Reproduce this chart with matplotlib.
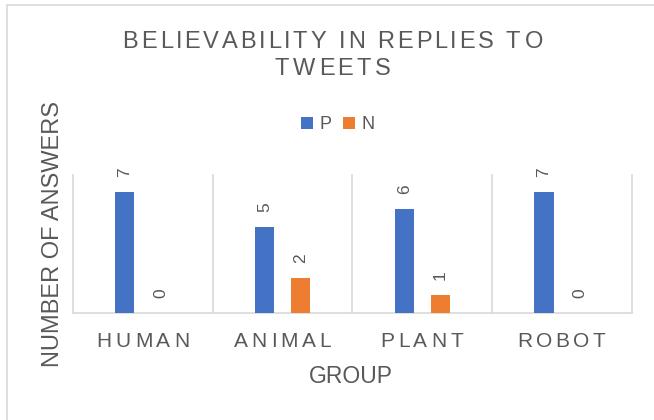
import matplotlib
matplotlib.use("Agg")
import matplotlib.pyplot as plt
import numpy as np
from matplotlib.patches import Rectangle
from matplotlib.font_manager import FontProperties, findfont
from matplotlib.ft2font import FT2Font

# Antworten pro Gruppe: P = glaubwürdig, N = nicht glaubwürdig
groups = ["HUMAN", "ANIMAL", "PLANT", "ROBOT"]
series_names = ["P", "N"]
p_values = [7, 5, 6, 7]
n_values = [0, 2, 1, 0]

title_lines = ["BELIEVABILITY IN REPLIES TO", "TWEETS"]
x_title = "GROUP"
y_title = "NUMBER OF ANSWERS"

W, H, DPI = 654, 420, 100
FAMILY = "Liberation Sans"
GREY = "#595959"
GRID = "#D9D9D9"
BLUE = "#4472C4"
ORANGE = "#ED7D31"


def advances(s, size):
    # Vorschubbreiten der einzelnen Zeichen in Pixeln
    font = FT2Font(findfont(FontProperties(family=FAMILY)), hinting_factor=1)
    font.set_size(size, DPI)
    return [font.load_char(ord(c)).horiAdvance / 64 for c in s]


def spaced_text(fig, x_px, y_px, s, size, spacing):
    # Text mit Zeichenabstand (wie in Excel), zentriert auf x_px, Grundlinie bei y_px
    adv = advances(s, size)
    total = sum(adv) + spacing * (len(s) - 1)
    cx = x_px - total / 2
    for ch, a in zip(s, adv):
        if ch != " ":
            fig.text(cx / W, 1 - y_px / H, ch, fontsize=size, family=FAMILY,
                     color=GREY, ha="left", va="baseline")
        cx += a + spacing


fig = plt.figure(figsize=(W / DPI, H / DPI), dpi=DPI)

# Rahmen des Diagrammbereichs
fig.patches.append(Rectangle((6.5 / W, -0.1), 1.2, 1 - 5.5 / H + 0.1,
                             transform=fig.transFigure, fill=False,
                             edgecolor=GRID, linewidth=1.2))

left, right, top, bottom = 73, 632, 175, 312.5
ax = fig.add_axes([left / W, 1 - bottom / H, (right - left) / W, (bottom - top) / H])

x = np.arange(len(groups))
off, bw = 0.13, 0.137
bars_p = ax.bar(x - off, p_values, bw, color=BLUE, label=series_names[0], zorder=3)
bars_n = ax.bar(x + off, n_values, bw, color=ORANGE, label=series_names[1], zorder=3)

ax.set_xlim(-0.5, len(groups) - 0.5)
ax.set_ylim(0, 8)
ax.set_xticks(x)
ax.set_xticklabels([])
ax.set_yticks([])
ax.tick_params(length=0)
for side in ["top", "left", "right"]:
    ax.spines[side].set_visible(False)
ax.spines["bottom"].set_color(GRID)
ax.spines["bottom"].set_linewidth(1.2)
# senkrechte Trennlinien zwischen den Gruppen
for b in np.arange(-0.5, len(groups), 1.0):
    ax.axvline(b, color=GRID, linewidth=1.2, zorder=1, clip_on=False)

# Datenbeschriftungen, um 90° gedreht
for bars in (bars_p, bars_n):
    for rect in bars:
        v = rect.get_height()
        ax.annotate(f"{v:.0f}", (rect.get_x() + rect.get_width() / 2, v),
                    xytext=(0, 15), textcoords="offset pixels",
                    rotation=90, ha="center", va="bottom",
                    fontsize=12.5, family=FAMILY, color=GREY)

# Legende
ax.legend(ncol=2, frameon=False, loc="center",
          bbox_to_anchor=(338 / W, 1 - 124.5 / H), bbox_transform=fig.transFigure,
          prop=FontProperties(family=FAMILY, size=13), labelcolor=GREY,
          handlelength=0.67, handleheight=0.67, handletextpad=0.35,
          columnspacing=0.65, borderpad=0)

# Titel und Achsentitel
spaced_text(fig, 332.5, 48, title_lines[0], 17, 2.7)
spaced_text(fig, 332.5, 75, title_lines[1], 17, 2.7)
for i, g in enumerate(groups):
    xc = ax.transData.transform((i, 0))[0]
    spaced_text(fig, xc, 347, g, 15, 3.5)

fig.text(351 / W, 1 - 383 / H, x_title, fontsize=16.5, family=FAMILY,
         color=GREY, ha="center", va="baseline")
fig.text(59 / W, 1 - 234 / H, y_title, fontsize=17, family=FAMILY,
         color=GREY, rotation=90, rotation_mode="anchor",
         ha="center", va="baseline")

fig.savefig("out.png", dpi=DPI)
